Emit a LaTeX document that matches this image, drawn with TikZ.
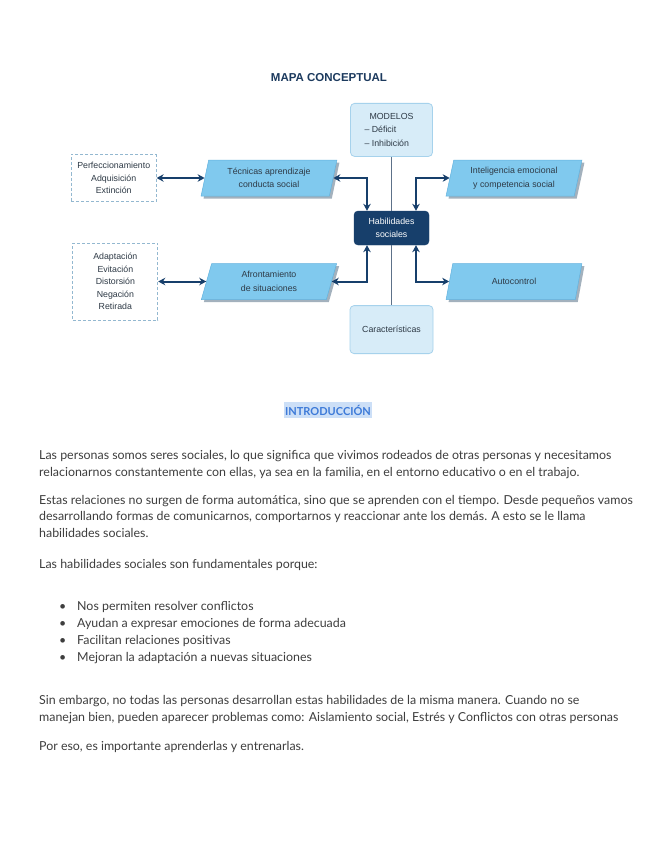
\documentclass[tikz,border=0pt]{standalone}
\usepackage{fontspec}
\setmainfont{Lato}
\newfontfamily\mapfont{Liberation Sans}
\usetikzlibrary{shapes.geometric, arrows, arrows.meta, positioning, math, calc, shadows}

\definecolor{navy}{HTML}{173F6B}
\definecolor{titlenavy}{HTML}{1C3A5E}
\definecolor{lightfill}{HTML}{D7ECF8}
\definecolor{lightedge}{HTML}{A6D2EC}
\definecolor{skyfill}{HTML}{80C9EE}
\definecolor{skyedge}{HTML}{62B2DE}
\definecolor{shadowgray}{HTML}{A3B1BD}
\definecolor{dashblue}{HTML}{93B8D0}
\definecolor{stemgray}{HTML}{5D7189}
\definecolor{maptext}{HTML}{2E3A46}
\definecolor{bodytext}{HTML}{3E3E3E}
\definecolor{introblue}{HTML}{3D7AD8}
\definecolor{introbg}{HTML}{CCDFF7}

\begin{document}
\begin{tikzpicture}[x=1pt, y=-1pt]
		\tikzmath{
			\paraW   = 136; %parallelogram width
			\paraH   = 36;  %parallelogram height
			\armX    = 24.5; %offset of the elbow arrows from the centre
			\sideGap = 48;  %distance between dashed box and parallelogram
		}
		\tikzstyle{MapBase} = [
			text centered,
			align=center,
			font=\mapfont\fontsize{8.8}{13.5}\selectfont,
			text=maptext,
		]
		\tikzstyle{LightBox} = [
			MapBase,
			rounded corners=4pt,
			fill=lightfill,
			draw=lightedge,
			line width=0.8pt,
		]
		\tikzstyle{DarkBox} = [
			MapBase,
			rounded corners=4pt,
			fill=navy,
			draw=navy,
			text=white,
			minimum width=75pt,
			minimum height=34pt,
		]
		\tikzstyle{Slanted} = [
			MapBase,
			trapezium,
			trapezium left angle=78,
			trapezium right angle=102,
			trapezium stretches=true,
			minimum width=\paraW pt,
			minimum height=\paraH pt,
			fill=skyfill,
			draw=skyedge,
			line width=0.5pt,
			drop shadow={shadow xshift=2.5pt, shadow yshift=-2.5pt, fill=shadowgray, opacity=1},
		]
		\tikzstyle{DashBox} = [
			MapBase,
			font=\mapfont\fontsize{8.8}{12.5}\selectfont,
			draw=dashblue,
			dash pattern=on 3pt off 2pt,
			line width=0.8pt,
			minimum width=85pt,
		]
		\tikzstyle{Link} = [
			{Stealth[length=7pt, width=7.5pt]}-{Stealth[length=7pt, width=7.5pt]},
			line width=2pt,
			draw=navy,
		]
		\tikzstyle{Stem} = [
			line width=1.3pt,
			draw=stemgray,
		]
		\tikzstyle{BodyText} = [
			anchor=base west, %base = baseline of the last line
			inner sep=0pt,
			align=left,
			text=bodytext,
			font=\fontsize{12.4}{16.7}\selectfont,
		]

		\useasboundingbox [fill=white] (0,0) rectangle (655,848);

		%%%%%%%%%%%%%%%%%%%%%%%%%%===---TITLE---===%%%%%%%%%%%%%%%%%%%%%%%%%%
		\node (title) [font=\mapfont\bfseries\fontsize{11.5}{13}\selectfont, text=titlenavy] at (329,78) {MAPA CONCEPTUAL};
		%%%%%%%%%%%%%%%%%%%%%%%%%%===---CENTRE COLUMN---===%%%%%%%%%%%%%%%%%%%%%%%%%%
		\node (hab) [DarkBox] at (391.5,228) {Habilidades\\sociales};
			\node (mod) [LightBox, minimum width=82pt, minimum height=53pt, above = 54pt of hab]
				{MODELOS\\\makebox[54pt][l]{– Déficit}\\\makebox[54pt][l]{– Inhibición}};
			\node (car) [LightBox, minimum width=83pt, minimum height=48pt, below = 60pt of hab]{Características};
		\draw [Stem] (mod.south) -- (hab.north);
		\draw [Stem] (hab.south) -- (car.north);
		%%%%%%%%%%%%%%%%%%%%%%%%%%===---UPPER ROW---===%%%%%%%%%%%%%%%%%%%%%%%%%%
		\node (tec) [Slanted] at (269,178) {Técnicas aprendizaje\\conducta social};
			\node (int) [Slanted] at (514,178) {Inteligencia emocional\\y competencia social};
			\node (perf) [DashBox, minimum height=47pt, left = \sideGap pt of tec]{Perfeccionamiento\\Adquisición\\Extinción};
		\draw [Link] (perf.east) -- (tec.west);
		\draw [Link] (tec.east) -| ($(hab.north) + (-\armX,0)$);
		\draw [Link] (int.west) -| ($(hab.north) + (\armX,0)$);
		%%%%%%%%%%%%%%%%%%%%%%%%%%===---LOWER ROW---===%%%%%%%%%%%%%%%%%%%%%%%%%%
		\node (afr) [Slanted, below = 67pt of tec] {Afrontamiento\\de situaciones};
			\node (aut) [Slanted, below = 67pt of int] {Autocontrol};
			\node (adap) [DashBox, minimum height=77pt, left = \sideGap pt of afr]{Adaptación\\Evitación\\Distorsión\\Negación\\Retirada};
		\draw [Link] (adap.east) -- (afr.west);
		\draw [Link] (afr.east) -| ($(hab.south) + (-\armX,0)$);
		\draw [Link] (aut.west) -| ($(hab.south) + (\armX,0)$);

		%%%%%%%%%%%%%%%%%%%%%%%%%%===---INTRODUCTION---===%%%%%%%%%%%%%%%%%%%%%%%%%%
		\node (intro) [fill=introbg, text=introblue, font=\bfseries\fontsize{11}{13}\selectfont, inner xsep=1pt, inner ysep=2.5pt] at (328,410) {INTRODUCCIÓN};
		\node (p1) [BodyText] at (39,476)
			{Las personas somos seres sociales, lo que significa que vivimos rodeados de otras personas y necesitamos\\
			 relacionarnos constantemente con ellas, ya sea en la familia, en el entorno educativo o en el trabajo.};
		\node (p2) [BodyText] at (39,537.5)
			{Estas relaciones no surgen de forma automática, sino que se aprenden con el tiempo. Desde pequeños vamos\\
			 desarrollando formas de comunicarnos, comportarnos y reaccionar ante los demás. A esto se le llama\\
			 habilidades sociales.};
		\node (p3) [BodyText] at (39,568) {Las habilidades sociales son fundamentales porque:};
		\node (list) [BodyText] at (59,661)
			{\makebox[18pt][l]{•}Nos permiten resolver conflictos\\
			 \makebox[18pt][l]{•}Ayudan a expresar emociones de forma adecuada\\
			 \makebox[18pt][l]{•}Facilitan relaciones positivas\\
			 \makebox[18pt][l]{•}Mejoran la adaptación a nuevas situaciones};
		\node (p4) [BodyText] at (39,721)
			{Sin embargo, no todas las personas desarrollan estas habilidades de la misma manera. Cuando no se\\
			 manejan bien, pueden aparecer problemas como: Aislamiento social, Estrés y Conflictos con otras personas};
		\node (p5) [BodyText] at (39,750) {Por eso, es importante aprenderlas y entrenarlas.};

	\end{tikzpicture}
\end{document}
